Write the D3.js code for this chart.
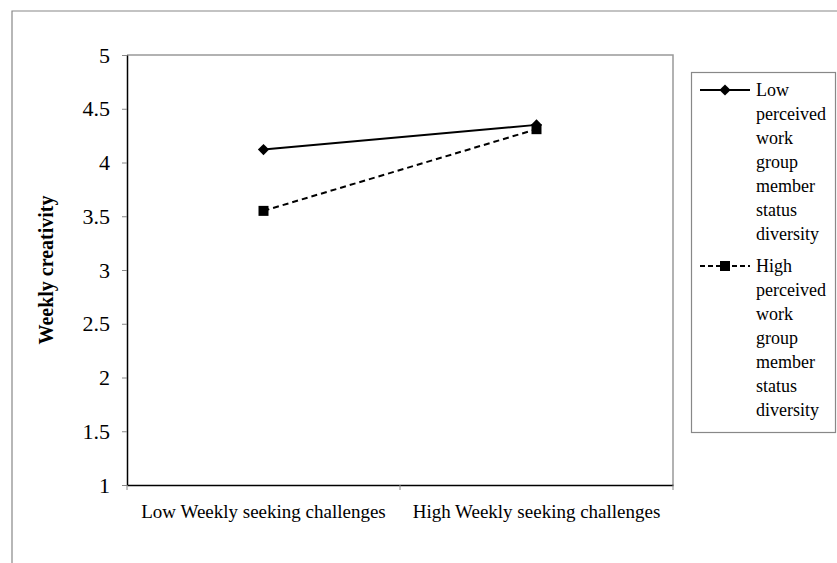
<!DOCTYPE html>
<html>
<head>
<meta charset="utf-8">
<script src="https://cdn.jsdelivr.net/npm/d3@7"></script>
<style>
  body { margin: 0; background: #fff; }
  text { font-family: "Liberation Serif", "Times New Roman", serif; fill: #000; }
</style>
</head>
<body>
<div id="chart"></div>
<script>
// data
const categories = ['Low Weekly seeking challenges', 'High Weekly seeking challenges'];
const lowDiversity = [4.12, 4.35];
const highDiversity = [3.55, 4.31];
const yTicks = [1, 1.5, 2, 2.5, 3, 3.5, 4, 4.5, 5];
const legendLow = ['Low', 'perceived', 'work', 'group', 'member', 'status', 'diversity'];
const legendHigh = ['High', 'perceived', 'work', 'group', 'member', 'status', 'diversity'];

const width = 837, height = 563;
const plot = { left: 127, right: 673, top: 55, bottom: 485 };

const svg = d3.select('#chart').append('svg')
  .attr('width', width)
  .attr('height', height);

// outer frame (top + left only visible)
svg.append('path')
  .attr('d', `M12,${height} L12,11 L${width},11`)
  .attr('fill', 'none')
  .attr('stroke', '#888')
  .attr('stroke-width', 1.2);

// scales
const x = d3.scaleBand().domain(categories).range([plot.left, plot.right]);
const y = d3.scaleLinear().domain([1, 5]).range([plot.bottom, plot.top]);

// plot area border (grey top/right)
svg.append('path')
  .attr('d', `M${plot.left},${plot.top} L${plot.right},${plot.top} L${plot.right},${plot.bottom}`)
  .attr('fill', 'none')
  .attr('stroke', '#999')
  .attr('stroke-width', 1.5);

// y axis
const yAxis = svg.append('g')
  .attr('transform', `translate(${plot.left},0)`)
  .call(d3.axisLeft(y).tickValues(yTicks).tickSize(5).tickSizeOuter(0).tickPadding(12)
    .tickFormat(d3.format('')));
yAxis.select('.domain').attr('stroke', '#000').attr('stroke-width', 1.5);
yAxis.selectAll('.tick line').attr('stroke', '#888');
yAxis.selectAll('.tick text')
  .style('font-family', '"Liberation Serif", serif')
  .style('font-size', '22px')
  .attr('fill', '#000');

// x axis
const xAxis = svg.append('g')
  .attr('transform', `translate(0,${plot.bottom})`)
  .call(d3.axisBottom(x).tickSize(0).tickPadding(20));
xAxis.select('.domain').attr('stroke', '#000').attr('stroke-width', 1.5);
xAxis.selectAll('.tick text')
  .style('font-family', '"Liberation Serif", serif')
  .style('font-size', '19px')
  .attr('fill', '#000');
// x tick marks at band edges
const edges = categories.map(c => x(c)).concat([x(categories[1]) + x.bandwidth()]);
xAxis.selectAll('.edge')
  .data(edges)
  .enter().append('line')
  .attr('x1', d => d).attr('x2', d => d)
  .attr('y1', 0).attr('y2', 5)
  .attr('stroke', '#888');

// y label
svg.append('text')
  .attr('transform', `translate(53,${(plot.top + plot.bottom) / 2}) rotate(-90)`)
  .attr('text-anchor', 'middle')
  .style('font-size', '20px')
  .style('font-weight', 'bold')
  .text('Weekly creativity');

const cx = (d, i) => x(categories[i]) + x.bandwidth() / 2;
const line = d3.line().x(cx).y(d => y(d));

// series
svg.append('path')
  .datum(lowDiversity)
  .attr('d', line)
  .attr('fill', 'none')
  .attr('stroke', '#000')
  .attr('stroke-width', 2);

svg.append('path')
  .datum(highDiversity)
  .attr('d', line)
  .attr('fill', 'none')
  .attr('stroke', '#000')
  .attr('stroke-width', 2)
  .attr('stroke-dasharray', '6,4');

const diamond = d3.symbol().type(d3.symbolDiamond2).size(80);
const square = d3.symbol().type(d3.symbolSquare).size(100);

svg.selectAll('.ptLow')
  .data(lowDiversity)
  .enter().append('path')
  .attr('d', diamond)
  .attr('transform', (d, i) => `translate(${cx(d, i)},${y(d)})`)
  .attr('fill', '#000');

svg.selectAll('.ptHigh')
  .data(highDiversity)
  .enter().append('path')
  .attr('d', square)
  .attr('transform', (d, i) => `translate(${cx(d, i)},${y(d)})`)
  .attr('fill', '#000');

// legend
const lg = svg.append('g');
lg.append('rect')
  .attr('x', 691.5).attr('y', 72.5)
  .attr('width', 144).attr('height', 360)
  .attr('fill', '#fff')
  .attr('stroke', '#888')
  .attr('stroke-width', 1.2);

const lineH = 24;
function legendItem(y0, lines, dashed, sym) {
  lg.append('line')
    .attr('x1', 700).attr('x2', 750)
    .attr('y1', y0).attr('y2', y0)
    .attr('stroke', '#000')
    .attr('stroke-width', 2)
    .attr('stroke-dasharray', dashed ? '5,3' : null);
  lg.append('path')
    .attr('d', sym)
    .attr('transform', `translate(725,${y0})`)
    .attr('fill', '#000');
  const t = lg.append('text')
    .attr('x', 756)
    .attr('y', y0)
    .style('font-size', '18px');
  t.selectAll('tspan')
    .data(lines)
    .enter().append('tspan')
    .attr('x', 756)
    .attr('dy', (d, i) => i === 0 ? '0.35em' : lineH)
    .text(d => d);
}
legendItem(90, legendLow, false, diamond);
legendItem(266, legendHigh, true, square);
</script>
</body>
</html>
